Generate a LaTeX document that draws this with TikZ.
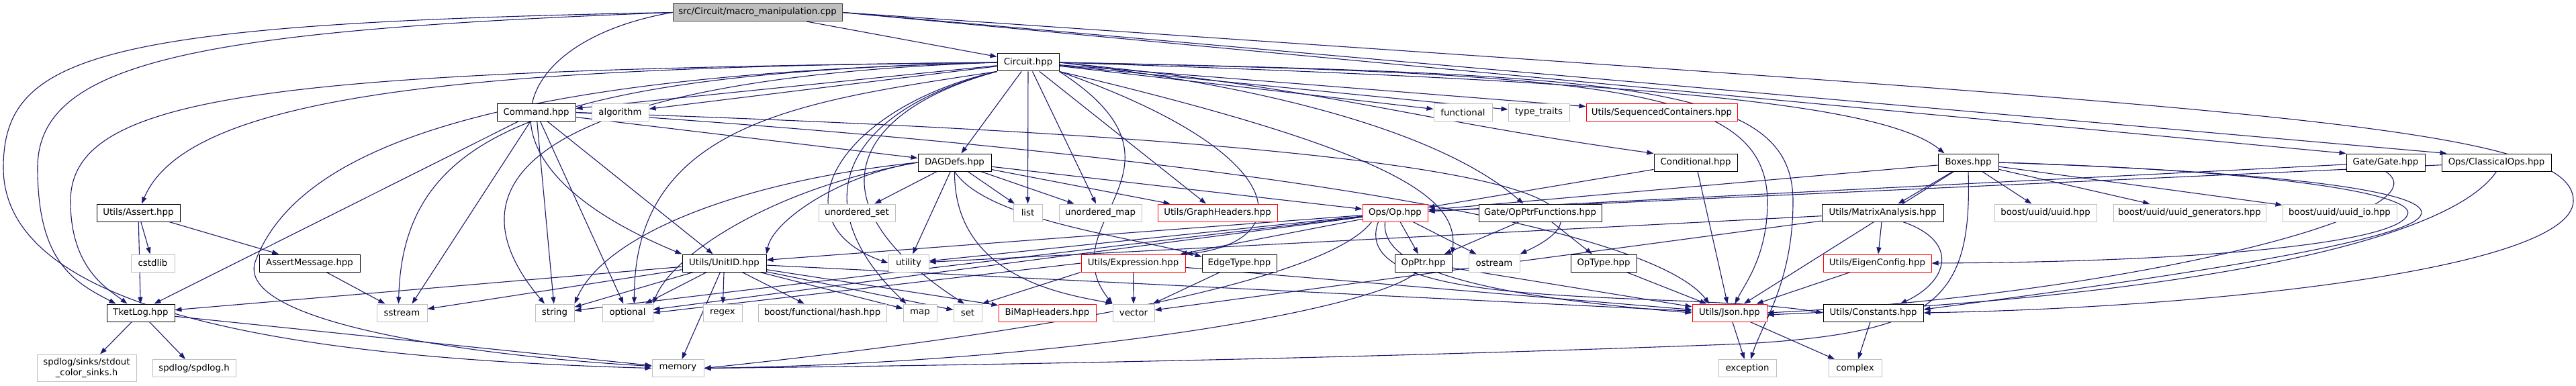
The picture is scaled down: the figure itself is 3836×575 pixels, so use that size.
\documentclass[tikz,border=0pt]{standalone}
\usepackage{fontspec}
\setmainfont{DejaVu Sans}
\usetikzlibrary{arrows.meta,backgrounds}
\definecolor{edgeblue}{HTML}{191970}
\definecolor{sysgray}{HTML}{BFBFBF}
\definecolor{rootborder}{HTML}{404040}
\newcommand\nodefs{\fontsize{13.3}{15.5}\selectfont}
\tikzset{
  nbox/.style={draw, line width=1pt, minimum height=26pt, inner sep=0pt, font=\nodefs, fill=white},
  docbox/.style={nbox, draw=black},
  sysbox/.style={nbox, draw=sysgray},
  truncbox/.style={nbox, draw=red},
  rootbox/.style={nbox, draw=rootborder, fill=sysgray},
  dep/.style={draw=edgeblue, line width=1.1pt, -{Triangle[length=10pt,width=7pt]}},
}
\begin{document}
\begin{tikzpicture}[x=1pt,y=-1pt]
\useasboundingbox (0,0) rectangle (3836,575);
% row 0
\node[rootbox, minimum width=252pt] (src) at (1128,18.5) {src/Circuit/macro\_manipulation.cpp};
% row 1
\node[docbox, minimum width=92pt] (circuit) at (1531,93) {Circuit.hpp};
% row 2
\node[docbox, minimum width=117pt] (command) at (798.5,167.5) {Command.hpp};
\node[sysbox, minimum width=85pt] (algorithm) at (923.5,167.5) {algorithm};
\node[sysbox, minimum width=87pt] (functional) at (2178.5,167.5) {functional};
\node[sysbox, minimum width=91pt] (typetraits) at (2291.5,167.5) {type\_traits};
\node[truncbox, minimum width=225pt] (seqcont) at (2474.5,167.5) {Utils/SequencedContainers.hpp};
% row 3
\node[docbox, minimum width=109pt] (dagdefs) at (1421.5,242) {DAGDefs.hpp};
\node[docbox, minimum width=124pt] (conditional) at (2525,242) {Conditional.hpp};
\node[docbox, minimum width=90pt] (boxes) at (2931,242) {Boxes.hpp};
\node[docbox, minimum width=117pt] (gategate) at (3552.5,242) {Gate/Gate.hpp};
\node[docbox, minimum width=163pt] (classicalops) at (3717.5,242) {Ops/ClassicalOps.hpp};
% row 4
\node[docbox, minimum width=124pt] (assert) at (206,317) {Utils/Assert.hpp};
\node[sysbox, minimum width=114pt] (uset) at (1276,317) {unordered\_set};
\node[sysbox, minimum width=43pt] (list) at (1530.5,317) {list};
\node[sysbox, minimum width=123pt] (umap) at (1638.5,317) {unordered\_map};
\node[truncbox, minimum width=178pt] (graphheaders) at (1813,317) {Utils/GraphHeaders.hpp};
\node[truncbox, minimum width=97pt] (op) at (2077.5,317) {Ops/Op.hpp};
\node[docbox, minimum width=183pt] (opptrfun) at (2293.5,317) {Gate/OpPtrFunctions.hpp};
\node[docbox, minimum width=181pt] (matrixan) at (2803.5,317) {Utils/MatrixAnalysis.hpp};
\node[sysbox, minimum width=152pt] (uuid) at (3046,317) {boost/uuid/uuid.hpp};
\node[sysbox, minimum width=227pt] (uuidgen) at (3260.5,317) {boost/uuid/uuid\_generators.hpp};
\node[sysbox, minimum width=170pt] (uuidio) at (3484,317) {boost/uuid/uuid\_io.hpp};
% row 5
\node[sysbox, minimum width=65pt] (cstdlib) at (227.5,392) {cstdlib};
\node[docbox, minimum width=150pt] (assertmsg) at (461,392) {AssertMessage.hpp};
\node[docbox, minimum width=125pt] (unitid) at (1078.5,392) {Utils/UnitID.hpp};
\node[sysbox, minimum width=60pt] (utility) at (1353,392) {utility};
\node[truncbox, minimum width=155pt] (expression) at (1687.5,392) {Utils/Expression.hpp};
\node[docbox, minimum width=111pt] (edgetype) at (1845.5,392) {EdgeType.hpp};
\node[docbox, minimum width=85pt] (opptr) at (2119.5,392) {OpPtr.hpp};
\node[sysbox, minimum width=76pt] (ostream) at (2225,392) {ostream};
\node[docbox, minimum width=98pt] (optype) at (2388,392) {OpType.hpp};
\node[truncbox, minimum width=161pt] (eigen) at (2795.5,392) {Utils/EigenConfig.hpp};
% row 6
\node[docbox, minimum width=101pt] (tketlog) at (209.5,466) {TketLog.hpp};
\node[sysbox, minimum width=75pt] (sstream) at (598.5,466) {sstream};
\node[sysbox, minimum width=58pt] (string) at (826,466) {string};
\node[sysbox, minimum width=75pt] (optional) at (934.5,466) {optional};
\node[sysbox, minimum width=58pt] (regex) at (1076,466) {regex};
\node[sysbox, minimum width=191pt] (hash) at (1224.5,466) {boost/functional/hash.hpp};
\node[sysbox, minimum width=50pt] (map) at (1370,466) {map};
\node[sysbox, minimum width=42pt] (set) at (1441,466) {set};
\node[truncbox, minimum width=145pt] (bimap) at (1559.5,466) {BiMapHeaders.hpp};
\node[sysbox, minimum width=62pt] (vector) at (1688,466) {vector};
\node[truncbox, minimum width=111pt] (json) at (2575.5,466) {Utils/Json.hpp};
\node[docbox, minimum width=149pt] (constants) at (2789.5,466) {Utils/Constants.hpp};
% row 7
\node[sysbox, minimum width=148pt, minimum height=40pt, align=center] (sinks) at (129,548) {spdlog/sinks/stdout\\\_color\_sinks.h};
\node[sysbox, minimum width=124pt] (spdlog) at (289,548.5) {spdlog/spdlog.h};
\node[sysbox, minimum width=77pt] (memory) at (1009.5,548.5) {memory};
\node[sysbox, minimum width=86pt] (exception) at (2602,548.5) {exception};
\node[sysbox, minimum width=79pt] (complex) at (2762.5,548.5) {complex};

\begin{scope}[on background layer]
% src
\draw[dep] (src) -- (circuit);
\draw[dep] (src.east) -- (gategate.north west);
\draw[dep] (src.east) -- ([xshift=8]classicalops.north west);
\draw[dep] (src.east) .. controls (3300,160) and (3836,180) .. (3832,300) .. controls (3828,400) and (3300,458) .. (constants.east);
\draw[dep] (src.west) .. controls (300,45) and (56,90) .. (56,250) .. controls (56,390) and (110,420) .. ([xshift=-37]tketlog.north);
\draw[dep] (src.west) .. controls (150,35) and (5,80) .. (5,250) .. controls (5,480) and (500,535) .. (memory.west);
\draw[dep] (src.west) .. controls (760,60) and (680,240) .. (unitid.north west);
% circuit
\draw[dep] (circuit) -- (command);
\draw[dep] (circuit) -- (algorithm);
\draw[dep] (circuit) -- (dagdefs);
\draw[dep] (circuit) -- (list);
\draw[dep] (circuit) -- (umap);
\draw[dep] (circuit) -- (graphheaders);
\draw[dep] (circuit) -- (functional);
\draw[dep] (circuit) -- (typetraits);
\draw[dep] (circuit) -- (seqcont);
\draw[dep] (circuit.east) .. controls (2000,135) and (2080,175) .. (conditional.north west);
\draw[dep] (circuit.east) .. controls (2400,120) and (2800,150) .. ([xshift=10]boxes.north west);
\draw[dep] (circuit.east) .. controls (1900,130) and (2150,200) .. ([xshift=-25]opptrfun.north);
\draw[dep] (circuit.east) .. controls (2400,110) and (2630,130) .. (2632,300) .. controls (2632,380) and (2600,420) .. ([xshift=8]json.north);
\draw[dep] (circuit.east) .. controls (2450,110) and (2670,130) .. (2670,300) .. controls (2670,420) and (2625,480) .. ([xshift=5]exception.north);
\draw[dep] (circuit.west) .. controls (700,100) and (280,140) .. ([xshift=5]assert.north);
\draw[dep] (circuit.west) .. controls (400,105) and (105,140) .. (105,300) .. controls (105,400) and (160,430) .. ([xshift=-20]tketlog.north);
\draw[dep] (circuit.west) .. controls (800,110) and (450,200) .. (380,390) .. controls (350,480) and (700,530) .. ([yshift=3]memory.west);
\draw[dep] (circuit.west) .. controls (800,110) and (600,200) .. ([xshift=-5]sstream.north);
\draw[dep] (circuit.west) .. controls (850,115) and (640,250) .. ([xshift=-15]string.north);
\draw[dep] (circuit.south west) .. controls (1200,150) and (944,180) .. ([xshift=10]optional.north);
\draw[dep] (circuit.south west) .. controls (1250,160) and (1150,330) .. (utility.west);
\draw[dep] (circuit.south west) .. controls (1260,165) and (1190,300) .. ([xshift=5]map.north west);
\draw[dep] (circuit.south west) .. controls (1270,165) and (1200,300) .. ([xshift=-5]set.north);
\draw[dep] (circuit.south east) .. controls (1800,250) and (1560,330) .. (vector.north west);
\draw[dep] (circuit.south east) .. controls (1930,230) and (1930,360) .. (expression.north east);
\draw[dep] (circuit.south east) .. controls (2100,230) and (2170,300) .. (opptr.north east);
% command
\draw[dep] (command) -- (dagdefs);
\draw[dep] (command) -- ([xshift=20]tketlog.north);
\draw[dep] (command) -- ([xshift=15]sstream.north);
\draw[dep] (command) -- (string);
\draw[dep] (command) -- (optional);
\draw[dep] (command) -- (unitid);
\draw[dep] (command.east) .. controls (2300,215) and (2430,300) .. (ostream.north east);
\draw[dep] (command.east) .. controls (1800,230) and (2450,330) .. ([xshift=-30]json.north);
% dagdefs
\draw[dep] (dagdefs) -- (uset);
\draw[dep] (dagdefs) -- (list);
\draw[dep] (dagdefs) -- (umap);
\draw[dep] (dagdefs) -- (graphheaders);
\draw[dep] (dagdefs) -- (utility);
\draw[dep] (dagdefs) -- (op);
\draw[dep] (dagdefs.south) .. controls (1470,330) and (1700,355) .. ([yshift=-4]edgetype.north west);
\draw[dep] (dagdefs.south) .. controls (1420,420) and (1600,440) .. (vector.north west);
\draw[dep] (dagdefs.west) .. controls (1250,260) and (1150,330) .. (unitid.north east);
\draw[dep] (dagdefs.west) .. controls (1100,270) and (900,350) .. (string.north east);
\draw[dep] (dagdefs.west) .. controls (1150,280) and (1000,380) .. (optional.north east);
% op
\draw[dep] (op) -- (opptr);
\draw[dep] (op) -- (ostream);
\draw[dep] (op) -- (unitid);
\draw[dep] (op) -- (utility);
\draw[dep] (op) -- (expression);
\draw[dep] (op) -- (string);
\draw[dep] (op) -- (optional);
\draw[dep] ([xshift=-15]op.south) .. controls (2055,400) and (2200,440) .. (json.west);
\draw[dep] ([xshift=-25]op.south) .. controls (2000,470) and (2500,430) .. (constants.west);
\draw[dep] ([xshift=-35]op.south) .. controls (1990,400) and (1700,480) .. (memory.east);
% expression, edgetype
\draw[dep] (expression) -- (vector);
\draw[dep] (expression.south west) -- (set.north east);
\draw[dep] (expression.west) -- (optional.east);
\draw[dep] (expression) -- (json);
\draw[dep] (edgetype) -- (vector);
% unitid
\draw[dep] (unitid) -- (tketlog);
\draw[dep] (unitid) -- (sstream);
\draw[dep] (unitid) -- (string);
\draw[dep] (unitid) -- (optional);
\draw[dep] (unitid) -- (regex);
\draw[dep] (unitid) -- (hash);
\draw[dep] (unitid) -- (map);
\draw[dep] (unitid) -- (set);
\draw[dep] (unitid) -- (bimap);
\draw[dep] (unitid) -- (memory);
\draw[dep] (unitid) -- (json);
% opptrfunctions, opptr, optype
\draw[dep] (opptrfun) -- (opptr);
\draw[dep] (opptrfun) -- (optype);
\draw[dep] (opptr) -- (json);
\draw[dep] ([xshift=-10]opptr.south) .. controls (2050,460) and (1600,540) .. (memory.east);
\draw[dep] (optype) -- (json);
% conditional
\draw[dep] (conditional) -- (op);
\draw[dep] (conditional) -- (json);
% boxes
\draw[dep] (boxes) -- (uuid);
\draw[dep] (boxes) -- (uuidgen);
\draw[dep] (boxes) -- (uuidio);
\draw[dep] (boxes) -- (matrixan);
\draw[dep] (boxes) -- (op);
\draw[dep] (boxes) -- (json);
\draw[dep] (boxes.south) .. controls (2937,450) and (2880,495) .. (2600,512) .. controls (2000,535) and (1400,545) .. (memory.east);
\draw[dep] (boxes.east) .. controls (3400,255) and (3600,290) .. (3585,320) .. controls (3570,360) and (3300,390) .. (eigen.east);
\draw[dep] (boxes.east) .. controls (3450,258) and (3620,290) .. (3605,320) .. controls (3590,365) and (3100,430) .. ([yshift=5]constants.east);
% gate, classical ops
\draw[dep] (gategate) -- (op);
\draw[dep] (gategate.south) .. controls (3650,320) and (3150,440) .. (json.east);
\draw[dep] (classicalops) -- (op);
\draw[dep] (classicalops.south) .. controls (3640,370) and (3200,445) .. ([yshift=-3]json.east);
% matrix analysis
\draw[dep] (matrixan) -- (eigen);
\draw[dep] ([xshift=30]matrixan.south) .. controls (2920,360) and (2900,420) .. ([xshift=40]constants.north);
\draw[dep] (matrixan) -- (utility);
\draw[dep] (matrixan) -- (vector);
\draw[dep] (eigen) -- (json);
% assert
\draw[dep] (assert) -- (tketlog);
\draw[dep] (assert) -- (cstdlib);
\draw[dep] (assert) -- (assertmsg);
\draw[dep] (assertmsg) -- (sstream);
% tketlog
\draw[dep] (tketlog) -- (sinks);
\draw[dep] (tketlog) -- (spdlog);
\draw[dep] (tketlog) -- (memory);
% json, constants
\draw[dep] (json) -- (exception);
\draw[dep] (json) -- (complex);
\draw[dep] (constants) -- (complex);
\end{scope}
\end{tikzpicture}
\end{document}
